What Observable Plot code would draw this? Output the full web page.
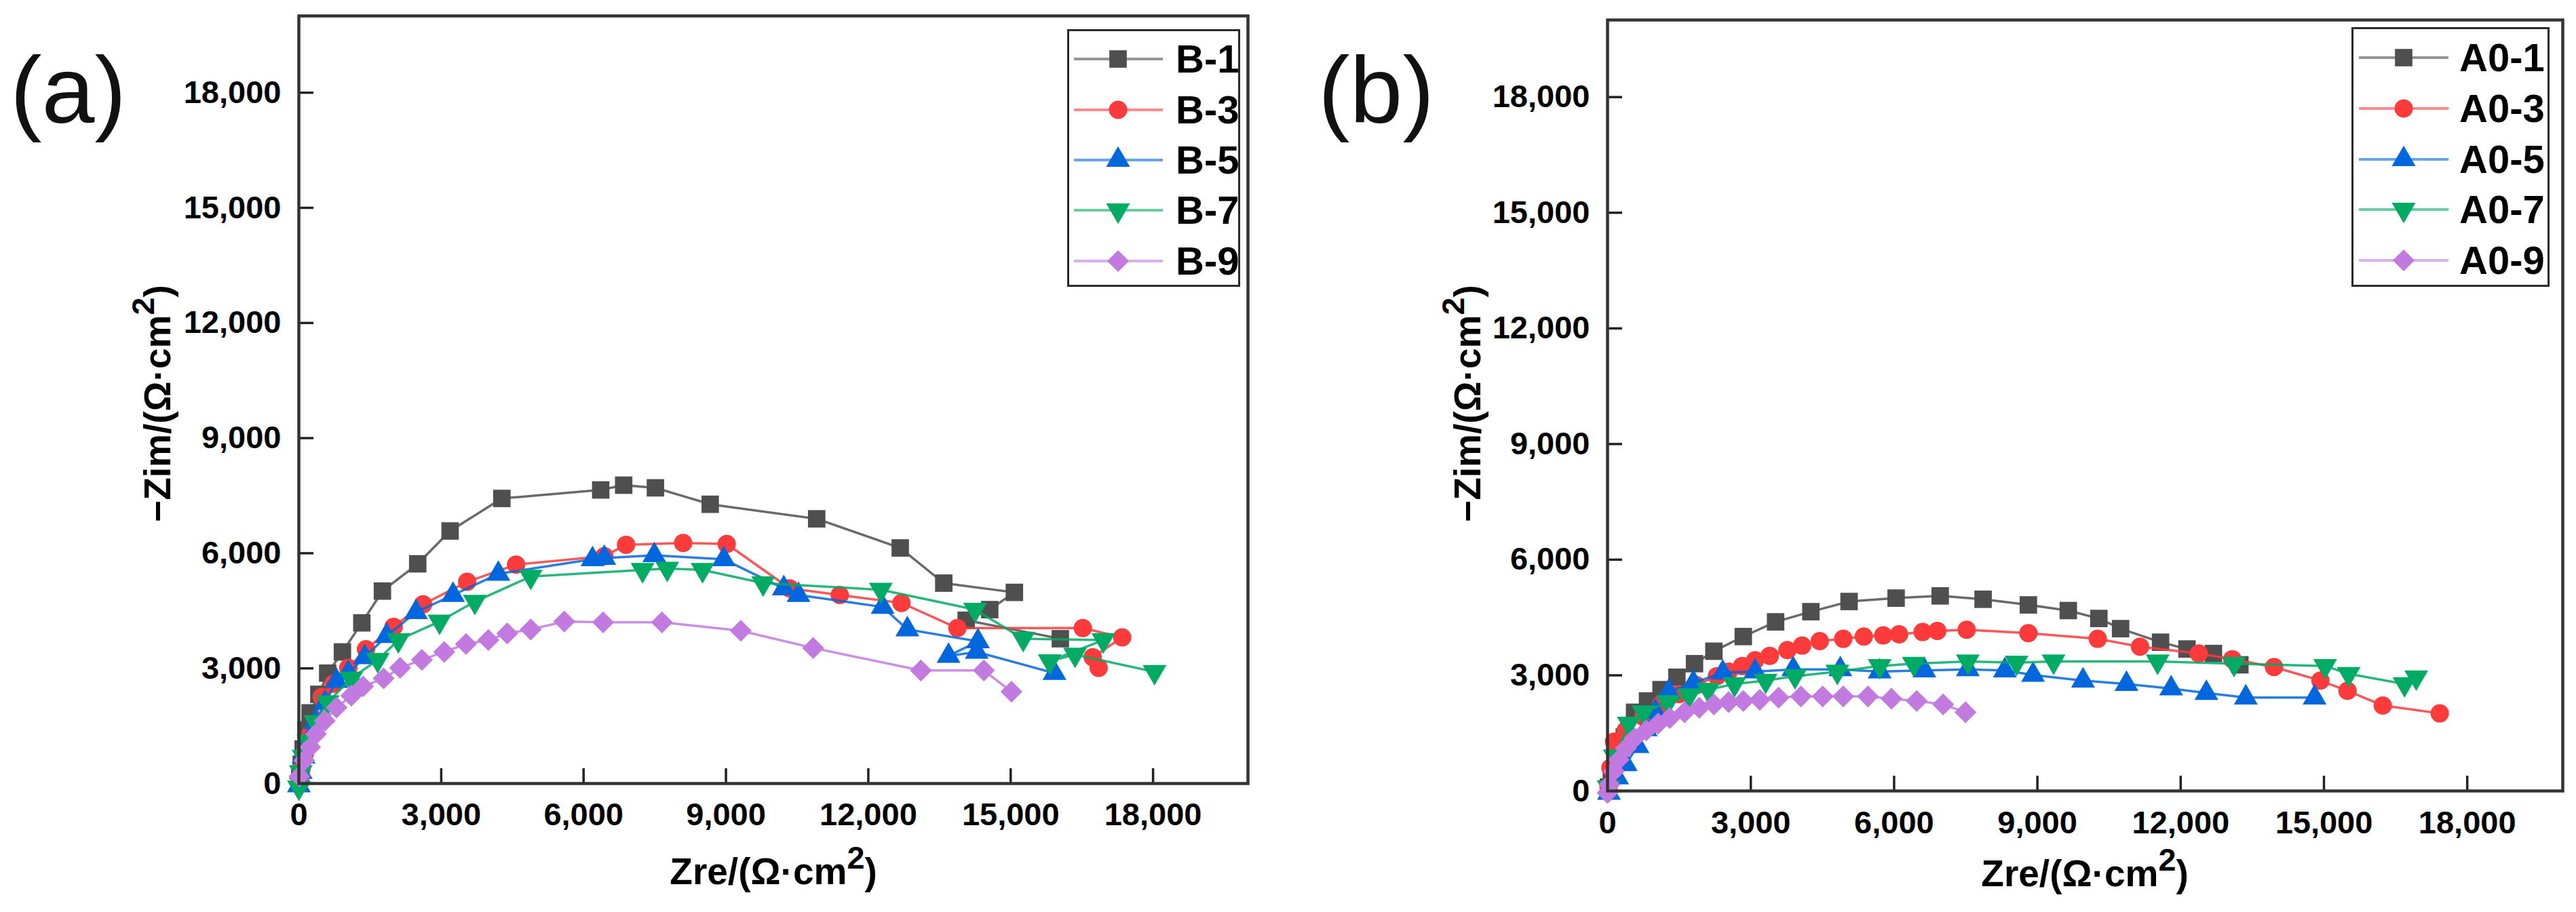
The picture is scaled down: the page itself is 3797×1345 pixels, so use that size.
<!DOCTYPE html>
<html lang="en">
<head>
<meta charset="utf-8">
<title>Nyquist plots</title>
<script src="https://cdn.jsdelivr.net/npm/d3@7"></script>
<script src="https://cdn.jsdelivr.net/npm/@observablehq/plot@0.6"></script>
<style>
  body { margin: 0; width: 3797px; height: 1345px; position: relative; background: #fff; overflow: hidden;
         font-family: 'Liberation Sans', Arial, sans-serif; color: #000; }
  .panel { position: absolute; top: 0; height: 1345px; }
  .tag { position: absolute; font-size: 140px; line-height: 1; color: #111; }
  .xtitle { position: absolute; font-size: 55px; font-weight: bold; line-height: 1; transform: translateX(-50%); white-space: nowrap; }
  .ytitle { position: absolute; font-size: 55px; font-weight: bold; line-height: 1; transform: translate(-50%, -50%) rotate(-90deg); white-space: nowrap; }
  sup { font-size: 0.85em; line-height: 0; vertical-align: 0.5em; }
  .legend { position: absolute; border: 3px solid #2a2a2a; box-sizing: border-box; background: #fff; }
  .legend .row { position: absolute; left: 0; display: flex; align-items: center; height: 60px; transform: translateY(-50%); white-space: nowrap; width: max-content; }
  .legend span { font-size: 58px; font-weight: bold; line-height: 1; white-space: nowrap; }
</style>
</head>
<body>
<div id="a" class="panel" style="left:0;width:1898px"></div>
<div id="b" class="panel" style="left:1898px;width:1899px"></div>

<div class="tag" style="left:15px;top:63px">(a)</div>
<div class="tag" style="left:1943px;top:63px">(b)</div>
<div class="xtitle" style="left:1140px;top:1258px">Zre/(Ω·cm<sup>2</sup>)</div>
<div class="xtitle" style="left:3073px;top:1261px">Zre/(Ω·cm<sup>2</sup>)</div>
<div class="ytitle" style="left:232px;top:595px">−Zim/(Ω·cm<sup>2</sup>)</div>
<div class="ytitle" style="left:2163px;top:595px">−Zim/(Ω·cm<sup>2</sup>)</div>

<script>
  // ticks shared by both panels
  const xTicks = [0, 3000, 6000, 9000, 12000, 15000, 18000];
  const yTicks = [0, 3000, 6000, 9000, 12000, 15000, 18000];

  const namesA = ["B-1", "B-3", "B-5", "B-7", "B-9"];
  const namesB = ["A0-1", "A0-3", "A0-5", "A0-7", "A0-9"];
  const colors = ["#4f4f4f", "#ff3a3a", "#0067df", "#00ac63", "#c279e0"];

  // (a)
  const b1Zre = [20, 50, 90, 150, 236, 422, 608, 918, 1327, 1761, 2505, 3187, 4278, 6361, 6845, 7514, 8668, 10912, 12673, 13590, 15078, 14558, 14062, 16046];
  const b1Zim = [150, 500, 900, 1400, 1841, 2324, 2876, 3428, 4186, 5014, 5724, 6580, 7428, 7649, 7773, 7704, 7276, 6897, 6138, 5221, 4980, 4531, 4255, 3773];
  const b3Zre = [20, 60, 130, 250, 484, 732, 1042, 1414, 1996, 2616, 3546, 4576, 6436, 6894, 8097, 9015, 10342, 11396, 12698, 13876, 16518, 17348, 16728, 16852];
  const b3Zim = [100, 400, 800, 1300, 2255, 2600, 3014, 3497, 4083, 4669, 5255, 5704, 5924, 6221, 6269, 6242, 5083, 4911, 4704, 4049, 4049, 3807, 3290, 3014];
  const b5Zre = [0, 40, 100, 200, 350, 550, 794, 1042, 1389, 1848, 2468, 3249, 4204, 6188, 6436, 7490, 8953, 10218, 10528, 12301, 12822, 14310, 13690, 14285, 15922];
  const b5Zim = [-50, 300, 700, 1100, 1600, 2100, 2669, 2876, 3290, 3842, 4462, 4911, 5462, 5842, 5876, 5945, 5842, 5083, 4911, 4600, 4014, 3704, 3324, 3428, 2876];
  const b7Zre = [0, 40, 100, 200, 350, 608, 1104, 1662, 2096, 2964, 3708, 4886, 7242, 7762, 8506, 9783, 12264, 14248, 15264, 16951, 15822, 16356, 18030];
  const b7Zim = [-100, 300, 700, 1100, 1600, 2117, 2738, 3221, 3738, 4221, 4738, 5393, 5566, 5600, 5566, 5221, 5049, 4531, 3773, 3738, 3186, 3359, 2910];
  const b9Zre = [12, 112, 236, 360, 546, 794, 1104, 1352, 1786, 2133, 2592, 3063, 3522, 3993, 4390, 4886, 5592, 6411, 7651, 9312, 10838, 13107, 14434, 15016];
  const b9Zim = [186, 600, 945, 1290, 1635, 1979, 2290, 2531, 2738, 3014, 3221, 3428, 3635, 3738, 3911, 4014, 4221, 4200, 4200, 3980, 3531, 2945, 2945, 2393];

  // (b)
  const a1Zre = [20, 80, 200, 350, 566, 837, 1120, 1452, 1821, 2227, 2842, 3519, 4257, 5057, 6042, 6965, 7863, 8811, 9647, 10287, 10742, 11579, 12132, 12686, 13240];
  const a1Zim = [100, 450, 900, 1400, 2041, 2334, 2628, 2950, 3302, 3625, 4006, 4387, 4651, 4915, 5003, 5061, 4973, 4827, 4680, 4475, 4211, 3859, 3683, 3566, 3273];
  const a3Zre = [20, 60, 135, 381, 751, 1120, 1489, 1858, 2289, 2535, 2818, 3089, 3396, 3765, 4073, 4442, 4934, 5365, 5771, 6103, 6596, 6903, 7518, 8810, 10262, 11148, 12378, 13080, 13953, 14925, 15491, 16230, 17423];
  const a3Zim = [100, 600, 1278, 1572, 1924, 2246, 2510, 2745, 2979, 3097, 3243, 3390, 3507, 3654, 3771, 3888, 3947, 4006, 4035, 4064, 4123, 4152, 4182, 4094, 3947, 3742, 3566, 3419, 3214, 2862, 2598, 2217, 2012];
  const a5Zre = [30, 200, 381, 628, 800, 1000, 1280, 1797, 2412, 3089, 3888, 4873, 5697, 6633, 7543, 8318, 8909, 9955, 10865, 11800, 12538, 13363, 14803];
  const a5Zim = [-50, 350, 692, 1161, 1600, 2050, 2569, 2803, 3067, 3097, 3155, 3155, 3097, 3126, 3155, 3126, 3009, 2862, 2774, 2657, 2540, 2422, 2422];
  const a7Zre = [20, 150, 443, 751, 1267, 1710, 2104, 2658, 3310, 3925, 4811, 5697, 6411, 7543, 8564, 9339, 11517, 13117, 15024, 15516, 16686, 16932];
  const a7Zim = [100, 900, 1748, 2041, 2305, 2481, 2628, 2774, 2862, 2979, 3097, 3243, 3302, 3361, 3331, 3361, 3361, 3302, 3243, 3038, 2774, 2950];
  const a9Zre = [0, 37, 135, 234, 381, 566, 812, 1058, 1304, 1612, 1920, 2227, 2535, 2842, 3187, 3581, 4048, 4504, 4934, 5451, 5944, 6473, 7026, 7494];
  const a9Zim = [-50, 164, 516, 809, 1103, 1367, 1572, 1748, 1894, 2041, 2158, 2246, 2305, 2334, 2364, 2422, 2452, 2452, 2452, 2452, 2393, 2334, 2246, 2041];

  // origin style down-pointing triangle
  const triangleDown = {
    draw(context, size) {
      const y = Math.sqrt(size / (Math.sqrt(3) * 3));
      context.moveTo(0, 2 * y);
      context.lineTo(-Math.sqrt(3) * y, -y);
      context.lineTo(Math.sqrt(3) * y, -y);
      context.closePath();
    }
  };
  const symbols = ["square", "circle", "triangle", triangleDown, "diamond2"];
  const d3Symbols = [d3.symbolSquare, d3.symbolCircle, d3.symbolTriangle, triangleDown, d3.symbolDiamond2];
  const radii = [14.5, 13.5, 13, 13, 14.5];

  function panel(names, zres, zims, o) {
    const innerW = o.width - o.ml - o.mr;
    const innerH = 1345 - o.mt - o.mb;
    const marks = [
      Plot.ruleX(xTicks, {x: d => d, insetTop: innerH - 22, stroke: "#222", strokeWidth: 3.5}),
      Plot.ruleY(yTicks, {y: d => d, insetRight: innerW - 22, stroke: "#222", strokeWidth: 3.5}),
      Plot.axisX(xTicks, {tickSize: 0, tickPadding: o.xpad, tickFormat: d3.format(","), label: null, fontSize: 47, fontWeight: "bold"}),
      Plot.axisY(yTicks, {tickSize: 0, tickPadding: 26, tickFormat: d3.format(","), label: null, fontSize: 47, fontWeight: "bold"})
    ];
    names.forEach((name, i) => {
      const rows = zres[i].map((x, j) => ({zre: x, zim: zims[i][j]}));
      marks.push(Plot.line(rows, {x: "zre", y: "zim", stroke: colors[i], strokeWidth: 3.5, strokeOpacity: 0.85}));
      marks.push(Plot.dot(rows, {x: "zre", y: "zim", symbol: symbols[i], r: radii[i], fill: colors[i], stroke: "none"}));
    });
    marks.push(Plot.frame({stroke: "#333", strokeWidth: 4.5}));
    return Plot.plot({
      width: o.width, height: 1345,
      marginLeft: o.ml, marginRight: o.mr, marginTop: o.mt, marginBottom: o.mb,
      x: {domain: [0, 20000], label: null},
      y: {domain: [0, 20000], label: null},
      style: "font-family: 'Liberation Sans', Arial, sans-serif; font-weight: bold; font-size: 47px; color: #000; background: transparent; overflow: visible;",
      marks
    });
  }

  function legend(names, o) {
    const box = document.createElement("div");
    box.className = "legend";
    Object.assign(box.style, {left: o.left + "px", top: o.top + "px", width: o.width + "px", height: o.height + "px"});
    names.forEach((name, i) => {
      const row = document.createElement("div");
      row.className = "row";
      row.style.top = o.rows[i] + "px";
      const svg = d3.create("svg").attr("width", o.textX).attr("height", 60);
      svg.append("line").attr("x1", o.lineX[0]).attr("x2", o.lineX[1]).attr("y1", 30).attr("y2", 30)
        .attr("stroke", colors[i]).attr("stroke-width", 4).attr("stroke-opacity", 0.6);
      svg.append("path").attr("transform", `translate(${o.markX},30)`)
        .attr("d", d3.symbol(d3Symbols[i], Math.PI * radii[i] * radii[i])())
        .attr("fill", colors[i]);
      row.appendChild(svg.node());
      const label = document.createElement("span");
      label.textContent = name;
      row.appendChild(label);
      box.appendChild(row);
    });
    document.body.appendChild(box);
  }

  document.getElementById("a").appendChild(panel(namesA,
    [b1Zre, b3Zre, b5Zre, b7Zre, b9Zre], [b1Zim, b3Zim, b5Zim, b7Zim, b9Zim],
    {width: 1898, ml: 440, mr: 59, mt: 23, mb: 190, xpad: 28}));
  document.getElementById("b").appendChild(panel(namesB,
    [a1Zre, a3Zre, a5Zre, a7Zre, a9Zre], [a1Zim, a3Zim, a5Zim, a7Zim, a9Zim],
    {width: 1899, ml: 471, mr: 20, mt: 29, mb: 179, xpad: 29}));

  legend(namesA, {left: 1573, top: 43, width: 255, height: 380, rows: [41, 116, 190, 264, 339], lineX: [7, 138], markX: 72, textX: 157});
  legend(namesB, {left: 3466, top: 40, width: 292, height: 383, rows: [42, 117, 192, 266, 341], lineX: [8, 140], markX: 74, textX: 156});
</script>
</body>
</html>
